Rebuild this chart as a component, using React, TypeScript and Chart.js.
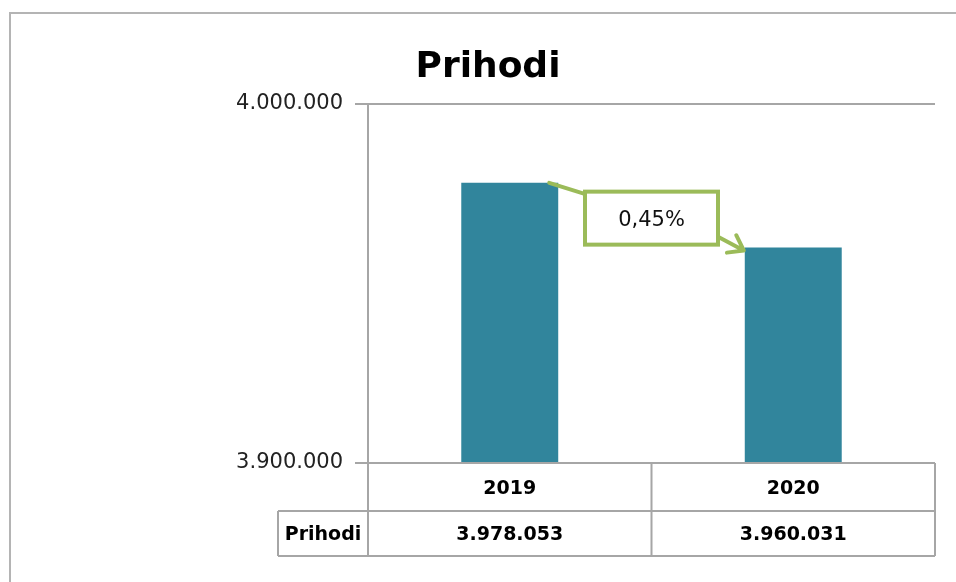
import React, { useEffect, useRef } from "react";
import { Chart, registerables } from "chart.js";

Chart.register(...registerables);

const chartTitle = "Prihodi";
const categories = ["2019", "2020"];
const seriesLabel = "Prihodi";
const prihodi = [3978053, 3960031];
const yTicks = [3900000, 4000000];
const changeLabel = "0,45%";

const GRID = "#a6a6a6";
const BAR = "#31859c";
const GREEN = "#9bbb59";
const FONT = "'DejaVu Sans', sans-serif";

function fmt(n: number): string {
  return String(Math.round(n)).replace(/\B(?=(\d{3})+(?!\d))/g, ".");
}

const overlay = {
  id: "overlay",
  afterDraw(chart: any) {
    const ctx = chart.ctx as CanvasRenderingContext2D;
    const area = chart.chartArea;
    const xs = chart.scales.x;
    const meta = chart.getDatasetMeta(0);
    ctx.save();

    // outer frame
    ctx.strokeStyle = "#b4b4b4";
    ctx.lineWidth = 2;
    ctx.strokeRect(10, 13, 2000, 2000);

    // title
    ctx.fillStyle = "#000";
    ctx.font = `bold 36px ${FONT}`;
    ctx.textAlign = "center";
    ctx.textBaseline = "alphabetic";
    ctx.fillText(chartTitle, 488, 77);

    // data table
    const top = area.bottom;
    const mid = top + 48;
    const bot = mid + 45;
    const labelLeft = 278;
    const centers = categories.map((_, i) => xs.getPixelForValue(i));
    const bounds: number[] = [area.left];
    for (let i = 0; i < centers.length - 1; i++) bounds.push((centers[i] + centers[i + 1]) / 2);
    bounds.push(area.right);

    ctx.strokeStyle = GRID;
    ctx.lineWidth = 2;
    ctx.beginPath();
    ctx.moveTo(area.left, top);
    ctx.lineTo(area.right, top);
    ctx.moveTo(labelLeft, mid);
    ctx.lineTo(area.right, mid);
    ctx.moveTo(labelLeft, bot);
    ctx.lineTo(area.right, bot);
    bounds.forEach((b) => {
      ctx.moveTo(b, top);
      ctx.lineTo(b, bot);
    });
    ctx.moveTo(labelLeft, mid);
    ctx.lineTo(labelLeft, bot);
    ctx.stroke();

    ctx.fillStyle = "#000";
    ctx.font = `bold 19px ${FONT}`;
    ctx.textAlign = "center";
    ctx.textBaseline = "alphabetic";
    categories.forEach((c, i) => {
      ctx.fillText(c, centers[i], top + 24 + 7);
      ctx.fillText(fmt(prihodi[i]), centers[i], mid + 22 + 7);
    });
    ctx.fillText(seriesLabel, (labelLeft + area.left) / 2, mid + 22 + 7);

    // change annotation
    const b0 = meta.data[0];
    const b1 = meta.data[1];
    const bw = 133;
    const bh = 53;
    const cx = (b0.x + b1.x) / 2;
    const cy = (b0.y + b1.y) / 2 + 3;
    const bl = cx - bw / 2;
    const bt = cy - bh / 2;
    ctx.strokeStyle = GREEN;
    ctx.lineWidth = 4;
    ctx.lineCap = "round";
    ctx.lineJoin = "round";
    ctx.beginPath();
    ctx.moveTo(b0.x + b0.width / 2 - 9, b0.y);
    ctx.lineTo(bl + 2, bt + 3);
    ctx.stroke();

    const sx = bl + bw;
    const sy = bt + bh - 8;
    const tx = b1.x - b1.width / 2 - 1;
    const ty = b1.y + 3;
    ctx.beginPath();
    ctx.moveTo(sx, sy);
    ctx.lineTo(tx, ty);
    const ang = Math.atan2(ty - sy, tx - sx);
    const hl = 17;
    const spread = 0.62;
    ctx.moveTo(tx - hl * Math.cos(ang - spread), ty - hl * Math.sin(ang - spread));
    ctx.lineTo(tx, ty);
    ctx.lineTo(tx - hl * Math.cos(ang + spread), ty - hl * Math.sin(ang + spread));
    ctx.stroke();

    ctx.fillStyle = "#fff";
    ctx.fillRect(bl, bt, bw, bh);
    ctx.lineCap = "butt";
    ctx.lineJoin = "miter";
    ctx.strokeRect(bl, bt, bw, bh);

    ctx.fillStyle = "#111";
    ctx.font = `21px ${FONT}`;
    ctx.textAlign = "center";
    ctx.textBaseline = "alphabetic";
    ctx.fillText(changeLabel, cx, cy + 8);

    ctx.restore();
  },
};

export default function App() {
  const ref = useRef<HTMLCanvasElement | null>(null);

  useEffect(() => {
    if (!ref.current) return;
    const chart = new Chart(ref.current, {
      type: "bar",
      data: {
        labels: categories,
        datasets: [
          {
            label: seriesLabel,
            data: prihodi,
            backgroundColor: BAR,
            borderWidth: 0,
            categoryPercentage: 1,
            barPercentage: 0.342,
          },
        ],
      },
      options: {
        responsive: false,
        animation: false,
        layout: { padding: { left: 0, top: 104, right: 21, bottom: 119 } },
        plugins: {
          legend: { display: false },
          title: { display: false },
          tooltip: { enabled: false },
        },
        scales: {
          x: { display: false },
          y: {
            min: yTicks[0],
            max: yTicks[yTicks.length - 1],
            afterBuildTicks: (s: any) => {
              s.ticks = yTicks.map((v) => ({ value: v }));
            },
            afterFit: (s: any) => {
              s.width = 368;
            },
            grid: {
              color: GRID,
              lineWidth: 2,
              tickLength: 13,
              drawOnChartArea: true,
            },
            border: { display: true, color: GRID, width: 2 },
            ticks: {
              padding: 12,
              color: "#222",
              font: { family: "DejaVu Sans", size: 21 },
              callback: (v: any) => fmt(Number(v)),
            },
          },
        },
      },
      plugins: [overlay],
    });
    return () => chart.destroy();
  }, []);

  return (
    <div style={{ position: "absolute", left: 0, top: 0, width: 956, height: 582, background: "#fff" }}>
      <canvas ref={ref} width={956} height={582} style={{ display: "block" }} />
    </div>
  );
}
